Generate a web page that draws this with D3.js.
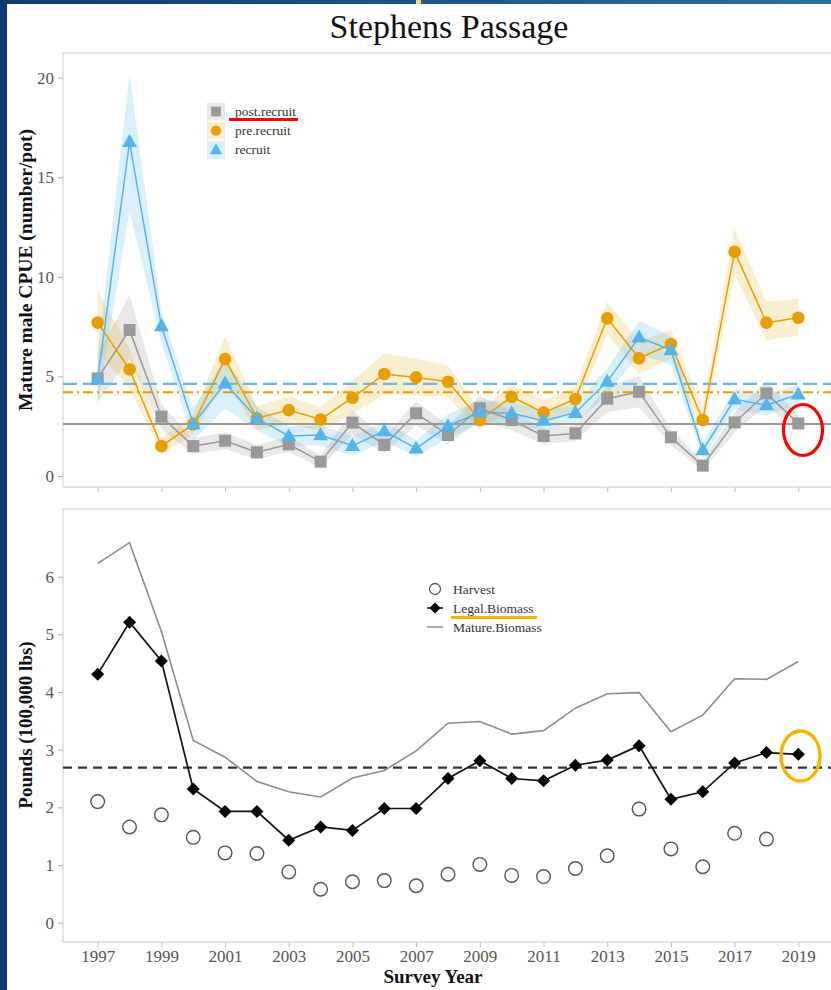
<!DOCTYPE html>
<html><head><meta charset="utf-8">
<script src="https://cdn.jsdelivr.net/npm/d3@7"></script>
<style>
html,body{margin:0;padding:0;background:#fff;}
svg{display:block;font-family:"Liberation Serif","Times New Roman",serif;}
</style></head>
<body>
<svg id="chart" width="831" height="990"></svg>
<script>
// ---------- data ----------
const years = d3.range(1997, 2020);
const yearTicks = [1997,1999,2001,2003,2005,2007,2009,2011,2013,2015,2017,2019];
const cpueTicks = [0,5,10,15,20];
const poundTicks = [0,1,2,3,4,5,6];

const postRecruit = [4.9,7.33,2.98,1.5,1.77,1.19,1.59,0.72,2.68,1.56,3.15,2.06,3.4,2.81,2.01,2.14,3.88,4.23,1.94,0.52,2.69,4.15,2.64];
const postLower   = [3.7,5.9,2.35,1.1,1.35,0.85,1.2,0.42,2.1,1.15,2.55,1.6,2.8,2.3,1.6,1.75,3.2,3.45,1.55,0.28,2.2,3.55,2.25];
const postUpper   = [6.1,9.1,3.6,1.9,2.2,1.55,2.0,1.02,3.3,1.95,3.75,2.55,4.0,3.3,2.4,2.55,4.55,5.0,2.35,0.78,3.2,4.75,3.05];

const preRecruit  = [7.7,5.36,1.5,2.6,5.87,2.9,3.31,2.84,3.93,5.12,4.95,4.73,2.81,3.98,3.18,3.87,7.92,5.91,6.63,2.81,11.26,7.7,7.95];
const preLower    = [6.2,4.4,1.1,2.1,4.8,2.3,2.6,2.25,3.1,4.1,4.05,3.95,2.3,3.35,2.6,3.25,7.1,5.1,5.9,2.2,10.1,6.8,7.05];
const preUpper    = [9.3,6.4,1.9,3.1,7.0,3.5,4.0,3.45,4.8,6.15,5.9,5.55,3.3,4.6,3.8,4.5,8.75,6.75,7.35,3.4,12.4,8.75,8.9];

const recruit     = [4.85,16.78,7.53,2.61,4.65,2.9,2.01,2.06,1.52,2.26,1.39,2.51,3.2,3.15,2.78,3.18,4.74,6.96,6.33,1.3,3.85,3.56,4.1];
const recLower    = [3.6,13.3,6.7,1.8,3.4,2.3,1.5,1.55,1.0,1.75,0.98,1.9,2.6,2.55,2.3,2.65,4.1,6.1,5.6,0.9,3.35,3.05,3.6];
const recUpper    = [6.1,20.2,8.3,3.4,5.9,3.5,2.5,2.55,2.0,2.75,1.8,3.1,3.8,3.75,3.25,3.7,5.4,7.8,7.0,1.7,4.35,4.05,4.6];

const cpueRefs = { post: 2.61, pre: 4.2, rec: 4.63 };

const harvest      = [2.10,1.66,1.87,1.48,1.21,1.2,0.88,0.58,0.71,0.73,0.64,0.84,1.01,0.82,0.8,0.94,1.16,1.97,1.28,0.97,1.55,1.45,null];
const legalBiomass = [4.31,5.21,4.54,2.32,1.93,1.93,1.43,1.66,1.6,1.98,1.98,2.5,2.81,2.5,2.46,2.73,2.82,3.07,2.14,2.27,2.77,2.95,2.92];
const matureBiomass= [6.23,6.59,5.05,3.16,2.87,2.45,2.27,2.18,2.51,2.64,2.98,3.46,3.49,3.27,3.33,3.72,3.97,3.99,3.31,3.6,4.23,4.22,4.53];
const legalRef = 2.69;

// ---------- drawing ----------
const svg = d3.select("#chart");
const W = 831, H = 990;

// slide background frame
const grad = svg.append("defs").append("linearGradient").attr("id","topg").attr("x1","0").attr("x2","1");
grad.append("stop").attr("offset","0").attr("stop-color","#12396f");
grad.append("stop").attr("offset","1").attr("stop-color","#2b7199");
svg.append("rect").attr("x",0).attr("y",0).attr("width",W).attr("height",H).attr("fill","#fff");
svg.append("rect").attr("x",0).attr("y",0).attr("width",W).attr("height",4).attr("fill","url(#topg)");
svg.append("rect").attr("x",0).attr("y",0).attr("width",7).attr("height",H).attr("fill","#12396f");
svg.append("rect").attr("x",416).attr("y",0).attr("width",5).attr("height",4).attr("fill","#e8e070");

// title
svg.append("text").attr("x",449).attr("y",38).attr("text-anchor","middle")
  .attr("font-size",34).attr("fill","#111").text("Stephens Passage");

const x = d3.scaleLinear().domain([1997, 2019]).range([97.7, 798.3]);

const panelL = 63, panelR = 836;
const colGray = "#999999", colOrange = "#E69F00", colBlue = "#56B4E9";

function panelFrame(top, bottom) {
  svg.append("rect").attr("x",panelL).attr("y",top).attr("width",panelR-panelL).attr("height",bottom-top)
    .attr("fill","#fff").attr("stroke","#d6d6d6").attr("stroke-width",1.3);
}

// ---- top panel ----
const t1 = 53, b1 = 487;
panelFrame(t1, b1);
const y1 = d3.scaleLinear().domain([0, 20]).range([476, 77.7]);

const yAx1 = svg.append("g").attr("transform",`translate(${panelL},0)`)
  .call(d3.axisLeft(y1).tickValues(cpueTicks).tickSize(5).tickPadding(4).tickFormat(d3.format("d")));
yAx1.select(".domain").remove();
yAx1.selectAll("line").attr("stroke","#b0b0b0");
yAx1.selectAll("text").attr("font-size",17).attr("fill","#555").attr("font-family","Liberation Serif");

const xAx1 = svg.append("g").attr("transform",`translate(0,${b1})`)
  .call(d3.axisBottom(x).tickValues(yearTicks).tickSize(5).tickFormat(""));
xAx1.select(".domain").remove();
xAx1.selectAll("line").attr("stroke","#c0c0c0");

const series = [
  {name:"post", v:postRecruit, lo:postLower, hi:postUpper, col:colGray, fill:"rgba(150,150,150,0.22)", shape:"square"},
  {name:"pre", v:preRecruit, lo:preLower, hi:preUpper, col:colOrange, fill:"rgba(230,159,0,0.18)", shape:"circle"},
  {name:"rec", v:recruit, lo:recLower, hi:recUpper, col:colBlue, fill:"rgba(86,180,233,0.22)", shape:"triangle"}
];

const area = (lo, hi) => d3.area().x((d,i)=>x(years[i])).y0((d,i)=>y1(lo[i])).y1((d,i)=>y1(hi[i]));
series.forEach(s => {
  svg.append("path").datum(s.v).attr("d", area(s.lo, s.hi)).attr("fill", s.fill);
});

// reference lines
svg.append("line").attr("x1",panelL).attr("x2",panelR).attr("y1",y1(cpueRefs.post)).attr("y2",y1(cpueRefs.post))
  .attr("stroke","#9a9a9a").attr("stroke-width",2);
svg.append("line").attr("x1",panelL).attr("x2",panelR).attr("y1",y1(cpueRefs.pre)).attr("y2",y1(cpueRefs.pre))
  .attr("stroke","#E69F00").attr("stroke-width",2).attr("stroke-dasharray","10,4,2,4");
svg.append("line").attr("x1",panelL).attr("x2",panelR).attr("y1",y1(cpueRefs.rec)).attr("y2",y1(cpueRefs.rec))
  .attr("stroke","#6fb6dc").attr("stroke-width",2.2).attr("stroke-dasharray","14,6");

const line1 = d3.line().x((d,i)=>x(years[i])).y(d=>y1(d));
series.forEach(s => {
  svg.append("path").datum(s.v).attr("d", line1).attr("fill","none").attr("stroke", s.col).attr("stroke-width",1.5);
});

function drawShape(g, shape, cx, cy, col, scale) {
  scale = scale || 1;
  if (shape === "square") {
    const s = 12*scale;
    g.append("rect").attr("x",cx-s/2).attr("y",cy-s/2).attr("width",s).attr("height",s).attr("fill",col);
  } else if (shape === "circle") {
    g.append("circle").attr("cx",cx).attr("cy",cy).attr("r",6.3*scale).attr("fill",col);
  } else {
    const s = 15*scale, h = s*0.87;
    g.append("path").attr("d",`M${cx},${cy-h*0.6}L${cx+s/2},${cy+h*0.4}L${cx-s/2},${cy+h*0.4}Z`).attr("fill",col);
  }
}
series.forEach(s => {
  const g = svg.append("g");
  s.v.forEach((d,i) => drawShape(g, s.shape, x(years[i]), y1(d), s.col));
});

// legend top
const leg1 = [
  {label:"post.recruit", s:series[0]},
  {label:"pre.recruit", s:series[1]},
  {label:"recruit", s:series[2]}
];
leg1.forEach((l,i) => {
  const cy = 111.5 + i*19.2;
  const g = svg.append("g");
  g.append("rect").attr("x",207).attr("y",cy-9).attr("width",18).attr("height",18).attr("fill",l.s.fill);
  drawShape(g, l.s.shape, 216, cy, l.s.col, 0.82);
  g.append("text").attr("x",235).attr("y",cy+4.5).attr("font-size",13.5).attr("fill","#333").text(l.label);
});
// red annotations
svg.append("line").attr("x1",229).attr("x2",298).attr("y1",119.5).attr("y2",119.5).attr("stroke","#ff0000").attr("stroke-width",2.8);
svg.append("ellipse").attr("cx",803).attr("cy",430).attr("rx",19.5).attr("ry",25.5)
  .attr("fill","none").attr("stroke","#ff0000").attr("stroke-width",3.2);

svg.append("text").attr("transform","translate(32,270) rotate(-90)").attr("text-anchor","middle")
  .attr("font-size",19.5).attr("font-weight","bold").attr("fill","#111").text("Mature male CPUE (number/pot)");

// ---- bottom panel ----
const t2 = 509, b2 = 942;
panelFrame(t2, b2);
const y2 = d3.scaleLinear().domain([0, 6]).range([922.7, 576.7]);

const yAx2 = svg.append("g").attr("transform",`translate(${panelL},0)`)
  .call(d3.axisLeft(y2).tickValues(poundTicks).tickSize(5).tickPadding(4).tickFormat(d3.format("d")));
yAx2.select(".domain").remove();
yAx2.selectAll("line").attr("stroke","#b0b0b0");
yAx2.selectAll("text").attr("font-size",17).attr("fill","#555").attr("font-family","Liberation Serif");

const xAx2 = svg.append("g").attr("transform",`translate(0,${b2})`)
  .call(d3.axisBottom(x).tickValues(yearTicks).tickSize(5).tickPadding(3).tickFormat(d3.format("d")));
xAx2.select(".domain").remove();
xAx2.selectAll("line").attr("stroke","#c0c0c0");
xAx2.selectAll("text").attr("font-size",17).attr("fill","#555").attr("font-family","Liberation Serif");

svg.append("line").attr("x1",panelL).attr("x2",panelR).attr("y1",y2(legalRef)).attr("y2",y2(legalRef))
  .attr("stroke","#333").attr("stroke-width",2.2).attr("stroke-dasharray","9,6");

const line2 = d3.line().defined(d=>d!=null).x((d,i)=>x(years[i])).y(d=>y2(d));
svg.append("path").datum(matureBiomass).attr("d", line2).attr("fill","none").attr("stroke","#8c8c8c").attr("stroke-width",1.6);
svg.append("path").datum(legalBiomass).attr("d", line2).attr("fill","none").attr("stroke","#111").attr("stroke-width",1.7);

const diamond = (cx, cy, r) => `M${cx},${cy-r}L${cx+r},${cy}L${cx},${cy+r}L${cx-r},${cy}Z`;
const gD = svg.append("g");
legalBiomass.forEach((d,i) => gD.append("path").attr("d", diamond(x(years[i]), y2(d), 6.5)).attr("fill","#000"));
const gH = svg.append("g");
harvest.forEach((d,i) => { if (d!=null) gH.append("circle").attr("cx",x(years[i])).attr("cy",y2(d)).attr("r",6.8)
  .attr("fill","none").attr("stroke","#555").attr("stroke-width",1.4); });

// legend bottom
const lg2 = svg.append("g");
lg2.append("circle").attr("cx",435).attr("cy",589).attr("r",5.5).attr("fill","none").attr("stroke","#555").attr("stroke-width",1.3);
lg2.append("line").attr("x1",427).attr("x2",443).attr("y1",608).attr("y2",608).attr("stroke","#111").attr("stroke-width",1.6);
lg2.append("path").attr("d",diamond(435,608,5.5)).attr("fill","#000");
lg2.append("line").attr("x1",427).attr("x2",443).attr("y1",627).attr("y2",627).attr("stroke","#8c8c8c").attr("stroke-width",1.5);
["Harvest","Legal.Biomass","Mature.Biomass"].forEach((t,i) => {
  lg2.append("text").attr("x",453).attr("y",593.5+i*19).attr("font-size",13.5).attr("fill","#333").text(t);
});
svg.append("line").attr("x1",451).attr("x2",537).attr("y1",617.5).attr("y2",617.5).attr("stroke","#f5b400").attr("stroke-width",2.8);
svg.append("ellipse").attr("cx",800.5).attr("cy",756).attr("rx",19.5).attr("ry",25)
  .attr("fill","none").attr("stroke","#f5b400").attr("stroke-width",3.4);

svg.append("text").attr("transform","translate(32,725) rotate(-90)").attr("text-anchor","middle")
  .attr("font-size",19).attr("font-weight","bold").attr("fill","#111").text("Pounds (100,000 lbs)");

svg.append("text").attr("x",433).attr("y",983).attr("text-anchor","middle")
  .attr("font-size",19).attr("font-weight","bold").attr("fill","#111").text("Survey Year");
</script>
</body></html>
